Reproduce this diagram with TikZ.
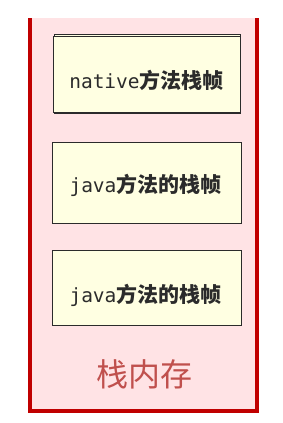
\documentclass[tikz,border=0pt]{standalone}
\usepackage{fontspec}
\setmonofont{DejaVu Sans Mono}
\newfontfamily\cjk{Noto Sans CJK SC}
\definecolor{stackred}{HTML}{C00000}
\definecolor{stackpink}{HTML}{FFE3E5}
\definecolor{frameyellow}{HTML}{FFFFE2}
\definecolor{labelred}{HTML}{C0504D}
\definecolor{inkdark}{HTML}{2B2B2B}
\tikzset{
  framebox/.style={draw=inkdark, line width=1.2pt, fill=frameyellow},
  frametext/.style={anchor=base, inner sep=0pt, text=inkdark},
}
\newcommand{\monotxt}[1]{{\fontsize{19.5}{22}\selectfont\ttfamily #1}}
\newcommand{\cjktxt}[1]{{\fontsize{21}{24}\selectfont\cjk\bfseries #1}}
\begin{document}
\begin{tikzpicture}[x=1pt,y=-1pt]
\useasboundingbox (0,0) rectangle (283,423);
% stack memory container
\fill[stackpink] (30,18) rectangle (257,411);
\draw[stackred, line width=4pt] (30,18) -- (30,411) -- (257,411) -- (257,18);
% native frame with shadow-like double edge
\draw[draw=inkdark, line width=1.2pt, fill=frameyellow] (54.5,34.5) rectangle (240.5,113);
\node[framebox, minimum width=186.5pt, minimum height=76pt, inner sep=0pt, anchor=north west] (nat) at (53,36) {};
\node[frametext] (nattxt) at (146.5,88.5) {\monotxt{native}\cjktxt{方法栈帧}};
% java frames
\node[framebox, minimum width=189pt, minimum height=81pt, inner sep=0pt, anchor=north west] (java1) at (51.5,141.5) {};
\node[frametext] (java1txt) at (145.5,192) {\monotxt{java}\cjktxt{方法的栈帧}};
\node[framebox, minimum width=189.5pt, minimum height=75pt, inner sep=0pt, anchor=north west] (java2) at (51.5,249.5) {};
\node[frametext] (java2txt) at (145.5,302.5) {\monotxt{java}\cjktxt{方法的栈帧}};
% label
\node[anchor=base, inner sep=0pt, text=labelred] (stacklbl) at (144.5,386) {\fontsize{32}{35}\selectfont\cjk 栈内存};
\end{tikzpicture}
\end{document}
